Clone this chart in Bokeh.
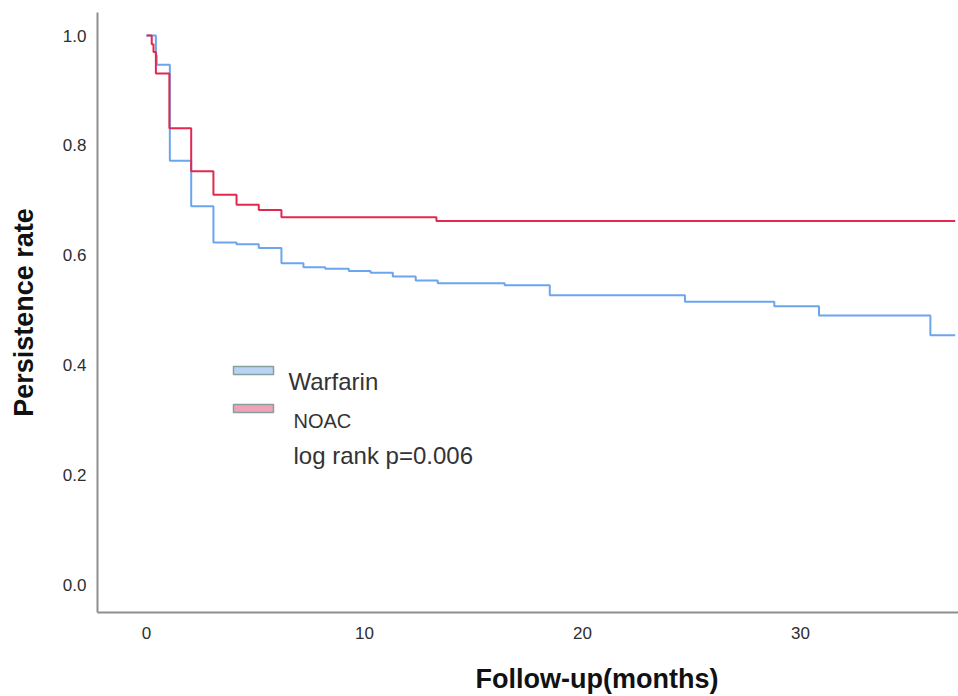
from bokeh.plotting import figure
from bokeh.models import Range1d, FixedTicker, PrintfTickFormatter, Label, Title
from bokeh.embed import file_html
from bokeh.resources import INLINE

# ---- data ----
warfarin_time = [0, 0.43, 0.47, 1.07, 2.05, 3.07, 4.13, 5.15, 6.19, 7.2, 8.2, 9.28, 10.28,
                 11.3, 12.35, 13.36, 16.43, 18.5, 24.7, 28.8, 30.85, 35.96]
warfarin_surv = [1.0, 0.964, 0.947, 0.772, 0.689, 0.623, 0.620, 0.613, 0.585, 0.578, 0.575,
                 0.571, 0.568, 0.561, 0.554, 0.549, 0.545, 0.527, 0.515, 0.507, 0.490, 0.454]
noac_time = [0, 0.24, 0.32, 0.43, 1.05, 2.05, 3.07, 4.13, 5.15, 6.19, 13.3]
noac_surv = [1.0, 0.984, 0.970, 0.931, 0.831, 0.753, 0.710, 0.692, 0.682, 0.669, 0.662]
end_time = 37.1

x_ticks = [0, 10, 20, 30]
y_ticks = [0.0, 0.2, 0.4, 0.6, 0.8, 1.0]

FONT = "Liberation Sans"
BLUE = "#6aa5ee"
RED = "#e2284f"

X_LO, X_HI = -2.248, 37.25
Y_LO, Y_HI = -0.051, 1.042

W, H = 958, 696
FL, FR, FT, FB = 97, 958, 12, 612   # frame edges in figure px

p = figure(width=W, height=H, output_backend="svg", toolbar_location=None,
           x_range=Range1d(X_LO, X_HI), y_range=Range1d(Y_LO, Y_HI),
           min_border_left=FL, min_border_right=W - FR, min_border_top=FT,
           min_border_bottom=H - FB)
p.grid.visible = False
p.outline_line_color = None
p.background_fill_color = "white"

def dx(px):
    return X_LO + (px - FL) / (FR - FL) * (X_HI - X_LO)
def dy(py):
    return Y_HI - (py - FT) / (FB - FT) * (Y_HI - Y_LO)

p.step(warfarin_time + [end_time], warfarin_surv + [warfarin_surv[-1]], mode="after",
       line_color=BLUE, line_width=2)
p.step(noac_time + [end_time], noac_surv + [noac_surv[-1]], mode="after",
       line_color=RED, line_width=2)

for ax in (p.xaxis[0], p.yaxis[0]):
    ax.axis_line_color = "#8e8e8e"
    ax.axis_line_width = 2
    ax.major_tick_line_color = None
    ax.minor_tick_line_color = None
    ax.major_tick_out = 0
    ax.major_tick_in = 0
    ax.major_label_text_font = FONT
    ax.major_label_text_font_size = "17px"
    ax.major_label_text_color = "#2e2e2e"

p.xaxis.ticker = FixedTicker(ticks=x_ticks)
p.xaxis.formatter = PrintfTickFormatter(format="%d")
p.xaxis.major_label_standoff = 14
p.yaxis.ticker = FixedTicker(ticks=y_ticks)
p.yaxis.formatter = PrintfTickFormatter(format="%.1f")
p.yaxis.major_label_standoff = 11

p.yaxis.axis_label = "Persistence rate"
p.yaxis.axis_label_text_font = FONT
p.yaxis.axis_label_text_font_style = "bold"
p.yaxis.axis_label_text_font_size = "27px"
p.yaxis.axis_label_text_color = "#111111"
p.yaxis.axis_label_standoff = 21

# x-axis title (off-centre, as in the reference); a thin spacer pushes it down
p.add_layout(Title(text=" ", text_font_size="1px", standoff=17), "below")
p.add_layout(Title(text="Follow-up(months)", align="left", offset=378,
                   text_font=FONT, text_font_style="bold", text_font_size="27px",
                   text_color="#111111", standoff=0), "below")

# legend (drawn by hand, as in the reference)
p.quad(left=[dx(233)], right=[dx(273)], top=[dy(366)], bottom=[dy(374)],
       fill_color="#b9d3f3", line_color="#86a0a0", line_width=1.5)
p.quad(left=[dx(233)], right=[dx(273)], top=[dy(404)], bottom=[dy(412)],
       fill_color="#f1a2b6", line_color="#86a0a0", line_width=1.5)
p.add_layout(Label(x=dx(288), y=dy(381), text="Warfarin", text_font=FONT,
                   text_font_size="24px", text_color="#333333", text_baseline="alphabetic"))
p.add_layout(Label(x=dx(293), y=dy(420), text="NOAC", text_font=FONT,
                   text_font_size="20px", text_color="#333333", text_baseline="alphabetic"))
p.add_layout(Label(x=dx(293), y=dy(455), text="log rank p=0.006", text_font=FONT,
                   text_font_size="24px", text_color="#333333", text_baseline="alphabetic"))

open("out.html", "w").write(file_html(p, INLINE))
